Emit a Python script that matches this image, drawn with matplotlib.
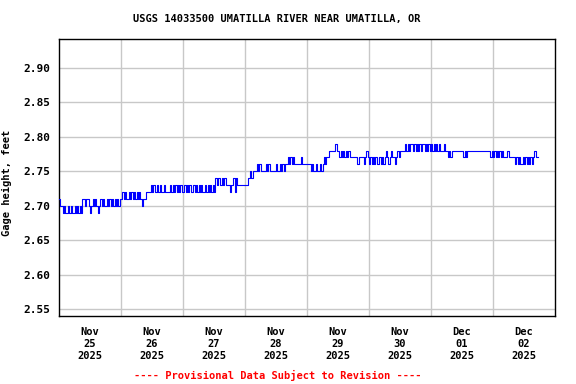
import matplotlib
matplotlib.use('Agg')
import matplotlib.pyplot as plt
from datetime import datetime, timedelta

# Gage height (feet), half-hourly readings, one list per day
nov25 = [2.71, 2.70, 2.70, 2.69, 2.70, 2.69, 2.69, 2.70, 2.69, 2.70, 2.69, 2.69,
         2.70, 2.69, 2.70, 2.69, 2.70, 2.69, 2.71, 2.71, 2.70, 2.71, 2.71, 2.70,
         2.69, 2.70, 2.71, 2.70, 2.71, 2.70, 2.69, 2.70, 2.71, 2.70, 2.71, 2.70,
         2.70, 2.71, 2.70, 2.71, 2.70, 2.71, 2.70, 2.71, 2.70, 2.71, 2.70, 2.71]
nov26 = [2.71, 2.72, 2.71, 2.72, 2.71, 2.71, 2.72, 2.71, 2.72, 2.71, 2.72, 2.71,
         2.72, 2.71, 2.72, 2.71, 2.70, 2.71, 2.71, 2.72, 2.72, 2.72, 2.72, 2.73,
         2.72, 2.73, 2.72, 2.72, 2.73, 2.72, 2.73, 2.72, 2.72, 2.73, 2.72, 2.72,
         2.72, 2.72, 2.73, 2.72, 2.73, 2.72, 2.73, 2.72, 2.73, 2.72, 2.73, 2.72]
nov27 = [2.72, 2.73, 2.72, 2.73, 2.72, 2.73, 2.72, 2.72, 2.73, 2.72, 2.73, 2.72,
         2.73, 2.72, 2.73, 2.72, 2.72, 2.73, 2.72, 2.73, 2.72, 2.73, 2.72, 2.73,
         2.72, 2.74, 2.73, 2.74, 2.74, 2.73, 2.74, 2.73, 2.74, 2.73, 2.73, 2.73,
         2.72, 2.73, 2.73, 2.74, 2.72, 2.74, 2.73, 2.73, 2.73, 2.73, 2.73, 2.73]
nov28 = [2.73, 2.73, 2.74, 2.74, 2.75, 2.74, 2.75, 2.75, 2.75, 2.76, 2.75, 2.76,
         2.75, 2.75, 2.75, 2.75, 2.76, 2.75, 2.76, 2.75, 2.75, 2.75, 2.75, 2.75,
         2.76, 2.75, 2.75, 2.76, 2.75, 2.76, 2.75, 2.76, 2.76, 2.77, 2.76, 2.77,
         2.76, 2.77, 2.76, 2.76, 2.76, 2.76, 2.76, 2.77, 2.76, 2.76, 2.76, 2.76]
nov29 = [2.76, 2.76, 2.76, 2.75, 2.76, 2.75, 2.75, 2.76, 2.75, 2.75, 2.76, 2.75,
         2.76, 2.77, 2.76, 2.77, 2.77, 2.78, 2.78, 2.78, 2.78, 2.78, 2.79, 2.78,
         2.78, 2.77, 2.78, 2.77, 2.78, 2.77, 2.78, 2.77, 2.78, 2.77, 2.77, 2.77,
         2.77, 2.77, 2.77, 2.76, 2.77, 2.77, 2.77, 2.77, 2.76, 2.77, 2.78, 2.77]
nov30 = [2.76, 2.77, 2.76, 2.77, 2.76, 2.77, 2.76, 2.76, 2.77, 2.76, 2.77, 2.76,
         2.77, 2.78, 2.77, 2.76, 2.77, 2.78, 2.77, 2.77, 2.76, 2.77, 2.78, 2.77,
         2.78, 2.78, 2.78, 2.78, 2.79, 2.78, 2.79, 2.78, 2.79, 2.79, 2.78, 2.79,
         2.78, 2.79, 2.78, 2.79, 2.78, 2.79, 2.79, 2.78, 2.79, 2.78, 2.79, 2.78]
dec01 = [2.79, 2.78, 2.79, 2.78, 2.79, 2.78, 2.79, 2.78, 2.78, 2.78, 2.79, 2.78,
         2.78, 2.77, 2.78, 2.77, 2.78, 2.78, 2.78, 2.78, 2.78, 2.78, 2.78, 2.78,
         2.78, 2.77, 2.78, 2.77, 2.78, 2.78, 2.78, 2.78, 2.78, 2.78, 2.78, 2.78,
         2.78, 2.78, 2.78, 2.78, 2.78, 2.78, 2.78, 2.78, 2.78, 2.78, 2.77, 2.78]
dec02 = [2.77, 2.78, 2.77, 2.78, 2.77, 2.78, 2.77, 2.78, 2.77, 2.77, 2.77, 2.78,
         2.77, 2.77, 2.77, 2.77, 2.77, 2.76, 2.77, 2.76, 2.77, 2.76, 2.76, 2.77,
         2.76, 2.77, 2.76, 2.77, 2.76, 2.77, 2.76, 2.77, 2.78, 2.77, 2.77, 2.77]

day_series = [nov25, nov26, nov27, nov28, nov29, nov30, dec01, dec02]
day_months = ['Nov', 'Nov', 'Nov', 'Nov', 'Nov', 'Nov', 'Dec', 'Dec']
day_numbers = ['25', '26', '27', '28', '29', '30', '01', '02']
day_year = '2025'
y_ticks = [2.55, 2.60, 2.65, 2.70, 2.75, 2.80, 2.85, 2.90]

title = 'USGS 14033500 UMATILLA RIVER NEAR UMATILLA, OR'
ylabel = 'Gage height, feet'
footer = '---- Provisional Data Subject to Revision ----'

start = datetime(2025, 11, 25)
times, vals = [], []
for d, day in enumerate(day_series):
    for s, v in enumerate(day):
        times.append(start + timedelta(hours=24 * d + 0.5 * s))
        vals.append(v)

font = dict(family='DejaVu Sans Mono', weight='bold', size=7.5)

fig = plt.figure(figsize=(5.76, 3.84), dpi=100)
ax = fig.add_axes([59 / 576, 1 - 316 / 384, (555 - 59) / 576, (316 - 39) / 384])

ax.plot(times, vals, drawstyle='steps-post', color='#0000ff', lw=0.8, zorder=3)

ax.set_xlim(start, start + timedelta(days=8))
ax.set_ylim(2.5398, 2.9421)

ax.set_yticks(y_ticks)
ax.set_yticklabels(['%.2f' % t for t in y_ticks], size=8, family='DejaVu Sans Mono', weight='bold')

ax.set_xticks([start + timedelta(days=d, hours=12) for d in range(8)])
ax.set_xticklabels(['%s\n%s\n%s' % (m, n, day_year) for m, n in zip(day_months, day_numbers)],
                   linespacing=1.25, **font)
ax.set_xticks([start + timedelta(days=d) for d in range(1, 8)], minor=True)

ax.grid(which='minor', axis='x', color='#c8c8c8', lw=1)
ax.grid(which='major', axis='y', color='#c8c8c8', lw=1)
ax.grid(which='major', axis='x', visible=False)
ax.tick_params(which='both', length=0)
ax.tick_params(axis='y', pad=6)
ax.tick_params(axis='x', pad=8)
for sp in ax.spines.values():
    sp.set_linewidth(1)
    sp.set_color('black')

ax.set_ylabel(ylabel, labelpad=6, **font)
ax.yaxis.set_label_coords(-0.095, 0.48)
fig.text(277 / 576, 1 - 19 / 384, title, ha='center', va='center', **font)
fig.text(277.5 / 576, 1 - 375 / 384, footer, ha='center', va='center', color='red', **font)

fig.savefig('out.png', dpi=100)
